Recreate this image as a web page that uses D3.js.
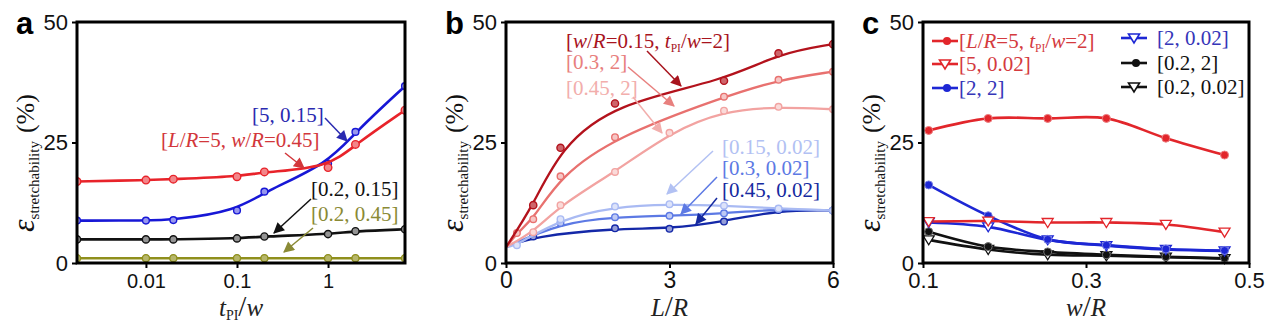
<!DOCTYPE html>
<html><head><meta charset="utf-8">
<script src="https://cdn.jsdelivr.net/npm/d3@7"></script>
<style>body{margin:0;background:#fff}svg{display:block}</style>
</head><body>
<svg id="chart" width="1271" height="327"></svg>
<script>
// ---------- DATA ----------
// Panel a : x = t_PI / w (log)
const aX = [0.00175, 0.01, 0.02, 0.1, 0.2, 1, 2, 7];
const aRed   = [16.9, 17.2, 17.4, 17.9, 18.9, 19.8, 24.6, 31.7];   // [L/R=5, w/R=0.45]
const aBlue  = [8.8, 8.8, 8.9, 10.9, 14.8, 20.6, 27.2, 36.7];     // [5, 0.15]
const aBlack = [4.9, 4.9, 4.9, 5.1, 5.5, 6.0, 6.6, 7.0];          // [0.2, 0.15]
const aOlive = [1.0, 1.0, 1.0, 1.0, 1.0, 1.0, 1.0, 1.0];          // [0.2, 0.45]
const aTicks = [0.01, 0.1, 1];

// Panel b : x = L/R
const bDarkRedX  = [0, 0.5, 1, 2, 4, 5, 6];
const bDarkRed   = [3.3, 12.0, 23.9, 33.1, 37.8, 43.5, 45.4];     // [w/R=0.15, tPI/w=2]
const bMidRedX   = [0, 0.2, 0.5, 1, 2, 4, 5, 6];
const bMidRed    = [3.3, 6.2, 9.1, 18.0, 26.1, 34.5, 38.0, 39.7]; // [0.3, 2]
const bLightRedX = [0, 0.5, 1, 2, 3, 4, 5, 6];
const bLightRed  = [3.3, 6.4, 12.0, 18.9, 27.0, 31.6, 32.4, 31.9];// [0.45, 2]
const bLightBlueX= [0, 0.2, 1, 2, 3, 4, 5, 6];
const bLightBlue = [3.3, 3.7, 9.1, 11.7, 12.2, 11.9, 11.3, 10.9]; // [0.15, 0.02]
const bMidBlueX  = [0, 1, 2, 3, 4, 5, 6];
const bMidBlue   = [3.3, 8.3, 9.5, 9.8, 10.3, 11.2, 10.9];        // [0.3, 0.02]
const bDarkBlueX = [0, 0.5, 2, 3, 4, 5, 6];
const bDarkBlue  = [3.3, 5.5, 7.2, 7.1, 8.6, 11.0, 10.9];         // [0.45, 0.02]
const bTicks = [0, 3, 6];

// Panel c : x = w/R
const cX = [0.107, 0.18, 0.253, 0.325, 0.398, 0.47];
const cRedCircle   = [27.5, 30.0, 30.0, 30.0, 25.9, 22.4];
const cRedTri      = [8.6, 8.7, 8.4, 8.4, 8.0, 6.4];
const cBlueCircle  = [16.2, 9.8, 4.9, 3.7, 2.9, 2.6];
const cBlueTri     = [8.4, 7.5, 4.8, 3.6, 2.8, 2.5];
const cBlackCircle = [6.5, 3.4, 2.3, 1.7, 1.3, 1.0];
const cBlackTri    = [4.8, 2.8, 1.7, 1.5, 1.2, 0.9];
const cTicks = [0.1, 0.3, 0.5];

const yTicks = [0, 25, 50];

// ---------- LAYOUT ----------
const svg = d3.select('#chart');
const TOP = 22, BOT = 263;
const SERIF = "'Liberation Serif','Times New Roman',serif";
const SANS = "'Liberation Sans',Arial,sans-serif";
const y = d3.scaleLinear([0, 50], [BOT, TOP]);

const defs = svg.append('defs');
const markerIds = {};
function arrowMarker(color) {
  if (markerIds[color]) return markerIds[color];
  const id = 'ah' + Object.keys(markerIds).length;
  defs.append('marker').attr('id', id).attr('viewBox', '0 0 10 10')
    .attr('refX', 9).attr('refY', 5).attr('markerWidth', 13).attr('markerHeight', 11)
    .attr('markerUnits', 'userSpaceOnUse').attr('orient', 'auto')
    .append('path').attr('d', 'M0,0 L10,5 L0,10 Z').attr('fill', color);
  markerIds[color] = id;
  return id;
}

// rich text: *italic*, _sub_
function rich(g, x, yy, str, size, color, anchor) {
  const t = g.append('text').attr('x', x).attr('y', yy)
    .attr('font-family', SERIF).attr('font-size', size).attr('fill', color)
    .attr('text-anchor', anchor || 'start');
  const parts = str.split(/(\*[^*]+\*|_[^_]+_)/).filter(s => s.length);
  let shifted = 0;
  parts.forEach(p => {
    const ts = t.append('tspan');
    if (p.startsWith('*')) { ts.text(p.slice(1, -1)).attr('font-style', 'italic'); }
    else if (p.startsWith('_')) { ts.text(p.slice(1, -1)).attr('font-size', size * 0.55).attr('dy', size * 0.18); shifted = size * 0.18; return; }
    else ts.text(p);
    if (shifted) { ts.attr('dy', -shifted); shifted = 0; }
  });
  return t;
}

function annotate(g, x, yy, str, color, arrow) {
  rich(g, x, yy, str, 21, color);
  g.append('line').attr('x1', arrow[0]).attr('y1', arrow[1]).attr('x2', arrow[2]).attr('y2', arrow[3])
    .attr('stroke', color).attr('stroke-width', 1.5)
    .attr('marker-end', `url(#${arrowMarker(color)})`);
}

function panelFrame(id, x0, x1, letter, xScale, ticks, tickFmt, tickSize, xLabel) {
  const g = svg.append('g');
  defs.append('clipPath').attr('id', 'clip' + id).append('rect')
    .attr('x', x0).attr('y', TOP).attr('width', x1 - x0).attr('height', BOT - TOP);
  // y axis
  const ya = g.append('g').attr('transform', `translate(${x0},0)`)
    .call(d3.axisLeft(y).tickValues(yTicks).tickSize(5).tickPadding(4));
  ya.select('.domain').remove();
  ya.selectAll('line').attr('stroke', '#000').attr('stroke-width', 2);
  ya.selectAll('text').attr('font-family', SANS).attr('font-size', 22).attr('fill', '#111');
  // x axis
  const pad = 288 - BOT - 0.71 * tickSize - 5;
  const xa = g.append('g').attr('transform', `translate(0,${BOT})`)
    .call(d3.axisBottom(xScale).tickValues(ticks).tickFormat(tickFmt).tickSize(5).tickPadding(pad));
  xa.select('.domain').remove();
  xa.selectAll('line').attr('stroke', '#000').attr('stroke-width', 2);
  xa.selectAll('text').attr('font-family', SANS).attr('font-size', tickSize).attr('fill', '#111');
  // letter
  g.append('text').attr('x', x0 - 61).attr('y', 34).attr('font-family', SANS)
    .attr('font-weight', 'bold').attr('font-size', 31).attr('fill', '#000').text(letter);
  // y label
  const yl = g.append('text').attr('transform', `translate(${x0 - 43},232) rotate(-90)`)
    .attr('font-family', SERIF).attr('fill', '#111');
  yl.append('tspan').attr('font-style', 'italic').attr('font-size', 32).text('ε');
  yl.append('tspan').attr('font-size', 15).attr('dy', 5).text('stretchability');
  yl.append('tspan').attr('font-size', 26).attr('dy', -5).attr('dx', 8).text('(%)');
  // x label
  const xl = g.append('text').attr('x', (x0 + x1) / 2).attr('y', 316).attr('text-anchor', 'middle')
    .attr('font-family', SERIF).attr('font-size', 25).attr('fill', '#222');
  xLabel.forEach(s => {
    const ts = xl.append('tspan').text(s.t);
    if (s.i) ts.attr('font-style', 'italic');
    if (s.sub) ts.attr('font-size', 14).attr('dy', 4);
    if (s.up) ts.attr('dy', -4);
    if (s.big) ts.attr('font-size', 29);
  });
  const plot = g.append('g').attr('clip-path', `url(#clip${id})`);
  const over = g.append('g');
  return { g, plot, over, frame: () => g.append('rect').attr('x', x0).attr('y', TOP)
    .attr('width', x1 - x0).attr('height', BOT - TOP).attr('fill', 'none')
    .attr('stroke', '#000').attr('stroke-width', 3) };
}

function series(layer, xs, ys, xScale, color, curve, width, markerR, fillMix, skipFirst) {
  const pts = xs.map((xv, i) => [xScale(xv), y(ys[i])]);
  layer.append('path').attr('d', d3.line().curve(curve)(pts)).attr('fill', 'none')
    .attr('stroke', color).attr('stroke-width', width);
  layer.selectAll(null).data(pts.filter((p, i) => !(skipFirst && xs[i] === 0))).enter().append('circle')
    .attr('cx', d => d[0]).attr('cy', d => d[1]).attr('r', markerR)
    .attr('fill', d3.interpolateRgb(color, '#fff')(fillMix)).attr('stroke', color).attr('stroke-width', 1.4);
}

// ---------- PANEL A ----------
{
  const x0 = 77, x1 = 405;
  const x = d3.scaleLog([0.00175, 7], [x0, x1]);
  const P = panelFrame('a', x0, x1, 'a', x, aTicks, d => String(d), 20,
    [{ t: 't', i: 1 }, { t: 'PI', sub: 1 }, { t: '/', big: 1, up: 1 }, { t: 'w', i: 1 }]);
  const C = d3.curveBasis;
  series(P.plot, aX, aOlive, x, '#8f8f1c', C, 2.6, 3.6, 0.35);
  series(P.plot, aX, aBlack, x, '#111111', C, 2.6, 3.6, 0.55);
  series(P.plot, aX, aBlue, x, '#1717d6', C, 2.6, 3.4, 0.55);
  series(P.plot, aX, aRed, x, '#e8232a', C, 2.6, 3.8, 0.45);
  P.frame();
  annotate(P.over, 252, 122, '[5, 0.15]', '#2a2ab0', [325, 118, 347, 141]);
  annotate(P.over, 161, 147, '[*L*/*R*=5, *w*/*R*=0.45]', '#d2373b', [285, 153, 304, 168]);
  annotate(P.over, 311, 196, '[0.2, 0.15]', '#111111', [311, 199, 274, 233]);
  annotate(P.over, 311, 221, '[0.2, 0.45]', '#8a8a35', [313, 228, 284, 252]);
}

// ---------- PANEL B ----------
{
  const x0 = 506, x1 = 833;
  const x = d3.scaleLinear([0, 6], [x0, x1]);
  const P = panelFrame('b', x0, x1, 'b', x, bTicks, d => String(d), 23,
    [{ t: 'L', i: 1 }, { t: '/', big: 1 }, { t: 'R', i: 1 }]);
  const C = d3.curveBasis;
  series(P.plot, bDarkBlueX, bDarkBlue, x, '#1428a8', C, 2.3, 3.3, 0.55, true);
  series(P.plot, bMidBlueX, bMidBlue, x, '#5c79e4', C, 2.3, 3.3, 0.6, true);
  series(P.plot, bLightBlueX, bLightBlue, x, '#a9baf3', C, 2.3, 3.3, 0.6, true);
  series(P.plot, bLightRedX, bLightRed, x, '#f2a3a1', C, 2.3, 3.3, 0.6, true);
  series(P.plot, bMidRedX, bMidRed, x, '#e8716f', C, 2.3, 3.3, 0.6, true);
  series(P.plot, bDarkRedX, bDarkRed, x, '#b3121c', C, 2.3, 3.6, 0.35, true);
  P.frame();
  annotate(P.over, 566, 48, '[*w*/*R*=0.15, *t*_PI_/*w*=2]', '#a8141e', [647, 51, 681, 86]);
  annotate(P.over, 566, 69, '[0.3, 2]', '#e8807e', [628, 67, 674, 106]);
  annotate(P.over, 566, 95, '[0.45, 2]', '#f2aeac', [633, 97, 662, 133]);
  annotate(P.over, 722, 154, '[0.15, 0.02]', '#b2c1f3', [713, 151, 667, 194]);
  annotate(P.over, 722, 175, '[0.3, 0.02]', '#5c79e4', [717, 177, 681, 214]);
  annotate(P.over, 722, 197, '[0.45, 0.02]', '#162aa0', [717, 198, 696, 224]);
}

// ---------- PANEL C ----------
{
  const x0 = 923, x1 = 1249;
  const x = d3.scaleLinear([0.1, 0.5], [x0, x1]);
  const P = panelFrame('c', x0, x1, 'c', x, cTicks, d3.format('.1f'), 22,
    [{ t: 'w', i: 1 }, { t: '/', big: 1 }, { t: 'R', i: 1 }]);
  const C = d3.curveCatmullRom.alpha(0.5);
  const tri = 'M-5.5,-4 L5.5,-4 L0,5 Z';
  function cSeries(ys, color, shape) {
    const pts = cX.map((xv, i) => [x(xv), y(ys[i])]);
    P.plot.append('path').attr('d', d3.line().curve(C)(pts)).attr('fill', 'none')
      .attr('stroke', color).attr('stroke-width', 2.6);
    const m = P.over.selectAll(null).data(pts).enter();
    if (shape === 'c') m.append('circle').attr('cx', d => d[0]).attr('cy', d => d[1]).attr('r', 4)
      .attr('fill', color).attr('stroke', d3.interpolateRgb(color, '#fff')(0.4)).attr('stroke-width', 1);
    else m.append('path').attr('d', tri).attr('transform', d => `translate(${d[0]},${d[1]})`)
      .attr('fill', '#fff').attr('stroke', color).attr('stroke-width', 1.3);
  }
  cSeries(cBlackTri, '#111111', 't');
  cSeries(cBlackCircle, '#111111', 'c');
  cSeries(cBlueTri, '#1d27d4', 't');
  cSeries(cBlueCircle, '#1d27d4', 'c');
  cSeries(cRedTri, '#e2262b', 't');
  cSeries(cRedCircle, '#e2262b', 'c');
  P.frame();
  // legend
  const leg = [
    { lx: 932, tx: 959, yy: 41, s: '[*L*/*R*=5, *t*_PI_/*w*=2]', c: '#e2262b', tc: '#d43a3e', m: 'c' },
    { lx: 932, tx: 959, yy: 64, s: '[5, 0.02]', c: '#e2262b', tc: '#d43a3e', m: 't' },
    { lx: 932, tx: 959, yy: 88, s: '[2, 2]', c: '#1d27d4', tc: '#3535b8', m: 'c' },
    { lx: 1121, tx: 1157, yy: 38, s: '[2, 0.02]', c: '#1d27d4', tc: '#3535b8', m: 't' },
    { lx: 1121, tx: 1157, yy: 63, s: '[0.2, 2]', c: '#111111', tc: '#111111', m: 'c' },
    { lx: 1121, tx: 1157, yy: 87, s: '[0.2, 0.02]', c: '#111111', tc: '#111111', m: 't' }
  ];
  leg.forEach(L => {
    P.over.append('line').attr('x1', L.lx).attr('x2', L.lx + 26).attr('y1', L.yy).attr('y2', L.yy)
      .attr('stroke', L.c).attr('stroke-width', 2.6);
    if (L.m === 'c') P.over.append('circle').attr('cx', L.lx + 15).attr('cy', L.yy).attr('r', 4).attr('fill', L.c);
    else P.over.append('path').attr('d', tri).attr('transform', `translate(${L.lx + 13},${L.yy})`)
      .attr('fill', '#fff').attr('stroke', L.c).attr('stroke-width', 1.6);
    rich(P.over, L.tx, L.yy + 7, L.s, 21, L.tc);
  });
}
</script>
</body></html>
